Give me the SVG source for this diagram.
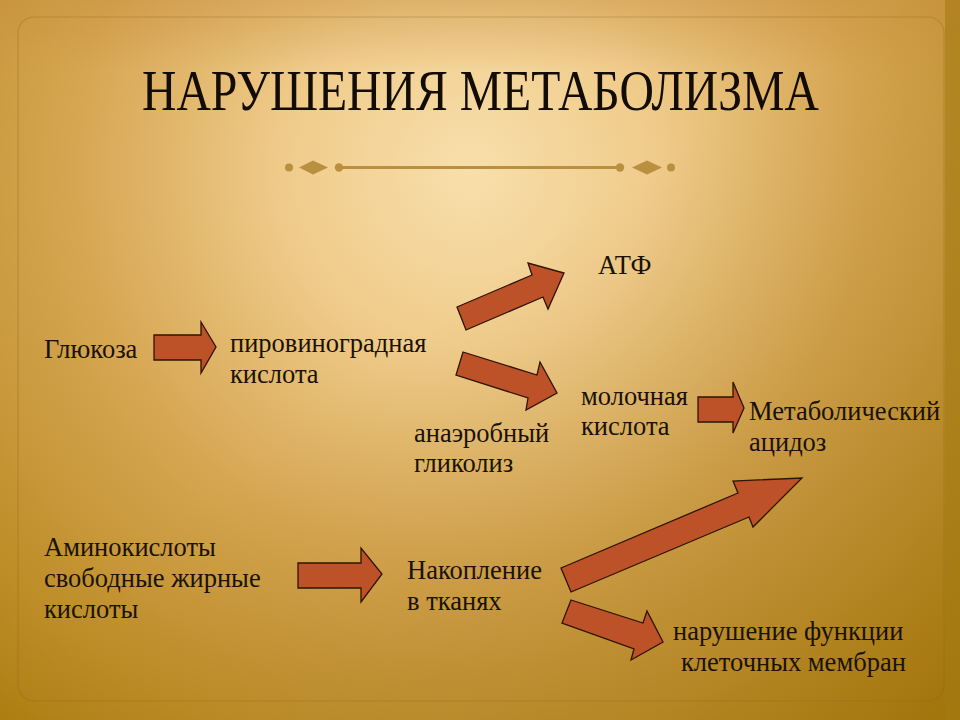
<svg xmlns="http://www.w3.org/2000/svg" width="960" height="720" viewBox="0 0 960 720">
  <defs>
    <radialGradient id="bg" cx="470" cy="170" r="720" gradientUnits="userSpaceOnUse">
      <stop offset="0" stop-color="#f8dfab"/>
      <stop offset="0.25" stop-color="#f0cc8c"/>
      <stop offset="0.55" stop-color="#d6a652"/>
      <stop offset="0.85" stop-color="#bd8d28"/>
      <stop offset="1" stop-color="#ae8012"/>
    </radialGradient>
    <linearGradient id="shade" x1="0" y1="0" x2="1" y2="1">
      <stop offset="0.45" stop-color="#8a6200" stop-opacity="0"/>
      <stop offset="1" stop-color="#8a6200" stop-opacity="0.35"/>
    </linearGradient>
    <linearGradient id="topband" x1="0" y1="0" x2="0" y2="1">
      <stop offset="0" stop-color="#c89040" stop-opacity="0.45"/>
      <stop offset="1" stop-color="#c89040" stop-opacity="0"/>
    </linearGradient>
  </defs>
  <style>
    .t { font-family: "Liberation Serif", "Times New Roman", serif; font-size: 26.5px; fill: #1a1206; }
    .title { font-family: "Liberation Serif", "Times New Roman", serif; font-size: 58px; fill: #120c04; }
    .arrow { fill: #bd5127; stroke: #2e1405; stroke-width: 1.3; stroke-linejoin: miter; }
    .deco { fill: #b99040; stroke: none; }
  </style>

  <!-- background -->
  <rect x="0" y="0" width="960" height="720" fill="url(#bg)"/>
  <rect x="0" y="0" width="960" height="720" fill="url(#shade)"/>
  <rect x="0" y="0" width="960" height="70" fill="url(#topband)"/>
  <rect x="945" y="0" width="15" height="720" fill="#a47a12" opacity="0.6"/>
  <rect x="18" y="17" width="926" height="684" rx="16" ry="16" fill="none" stroke="#8a6a20" stroke-opacity="0.35" stroke-width="1.2"/>

  <!-- title -->
  <g id="title">
    <text class="title" transform="translate(142,110) scale(0.822,1)" x="0" y="0">НАРУШЕНИЯ МЕТАБОЛИЗМА</text>
    <g id="ornament">
      <rect class="deco" x="339" y="166" width="281" height="3"/>
      <circle class="deco" cx="289" cy="167.5" r="4"/>
      <circle class="deco" cx="339" cy="167.5" r="4.2"/>
      <polygon class="deco" points="299,167.5 313,160.5 328,167.5 313,174.5"/>
      <circle class="deco" cx="620" cy="167.5" r="4.2"/>
      <circle class="deco" cx="671" cy="167.5" r="4"/>
      <polygon class="deco" points="632,167.5 647,160.5 662,167.5 647,174.5"/>
    </g>
  </g>

  <!-- nodes -->
  <g id="glucose"><text class="t" x="44" y="358">Глюкоза</text></g>
  <g id="pyruvate">
    <text class="t" x="230" y="352">пировиноградная</text>
    <text class="t" x="230" y="383">кислота</text>
  </g>
  <g id="atp"><text class="t" x="598" y="274">АТФ</text></g>
  <g id="anaerobic">
    <text class="t" x="414" y="442">анаэробный</text>
    <text class="t" x="414" y="472">гликолиз</text>
  </g>
  <g id="lactate">
    <text class="t" x="581" y="405">молочная</text>
    <text class="t" x="581" y="435">кислота</text>
  </g>
  <g id="acidosis">
    <text class="t" x="749" y="420">Метаболический</text>
    <text class="t" x="749" y="451">ацидоз</text>
  </g>
  <g id="aminoacids">
    <text class="t" x="44" y="556">Аминокислоты</text>
    <text class="t" x="44" y="587">свободные жирные</text>
    <text class="t" x="44" y="618">кислоты</text>
  </g>
  <g id="accumulation">
    <text class="t" x="407" y="579">Накопление</text>
    <text class="t" x="407" y="610">в тканях</text>
  </g>
  <g id="membranes">
    <text class="t" x="673" y="640">нарушение функции</text>
    <text class="t" x="681" y="671">клеточных мембран</text>
  </g>

  <!-- connectors -->
  <g id="connectors">
    <polygon class="arrow" points="154,335 201,335 201,322 216,347 201,373 201,360 154,360"/>
    <polygon class="arrow" points="457,307 532,275 528,263 564,273 548,309 543,297 466,330"/>
    <polygon class="arrow" points="463,352 537,375 540,362 557,393 526,410 528,398 456,375"/>
    <polygon class="arrow" points="698,397 733,397 733,382 744,408 733,433 733,422 698,422"/>
    <polygon class="arrow" points="298,563 361,563 361,548 382,574 361,602 361,588 298,588"/>
    <polygon class="arrow" points="561,568 738,493 733,481 802,478 753,527 749,517 571,592"/>
    <polygon class="arrow" points="571,600 643,623 647,611 663,642 631,660 634,649 562,623"/>
  </g>
</svg>
